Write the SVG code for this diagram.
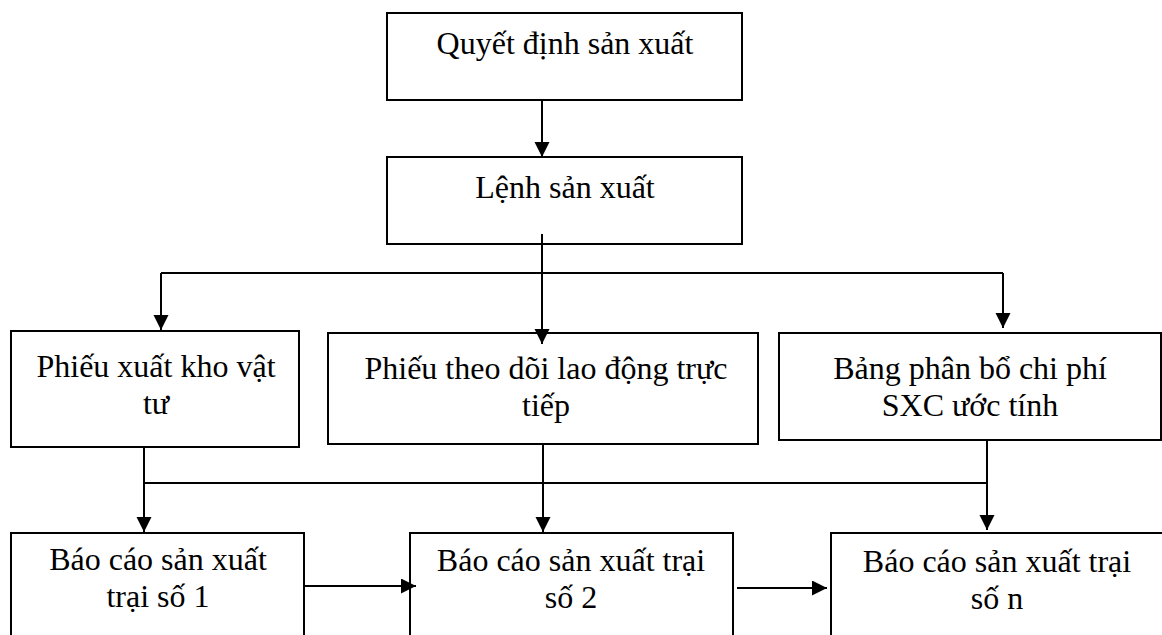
<svg xmlns="http://www.w3.org/2000/svg" width="1162" height="635" viewBox="0 0 1162 635">
  <defs>
    <marker id="arrow" markerUnits="userSpaceOnUse" markerWidth="16" markerHeight="16" viewBox="0 0 16 16" refX="15" refY="7.5" orient="auto">
      <path d="M0,0 L15,7.5 L0,15 z" fill="#000"/>
    </marker>
    <style>
      .box { fill: #fff; stroke: #000; stroke-width: 2; }
      .lbl { font-family: "Liberation Serif", "Times New Roman", serif; font-size: 32px; fill: #000; text-anchor: middle; }
      .wire { fill: none; stroke: #000; stroke-width: 2; }
      .arr { marker-end: url(#arrow); }
    </style>
  </defs>
  <rect width="1162" height="635" fill="#fff"/>

  <!-- top row -->
  <g id="node-quyet-dinh">
    <rect class="box" x="387" y="13" width="355" height="87"/>
    <text class="lbl" x="565" y="54">Quyết định sản xuất</text>
  </g>
  <g id="node-lenh">
    <rect class="box" x="387" y="157" width="355" height="87"/>
    <text class="lbl" x="565" y="198">Lệnh sản xuất</text>
  </g>

  <!-- middle row -->
  <g id="node-phieu-xuat-kho">
    <rect class="box" x="11" y="331" width="288" height="116"/>
    <text class="lbl" x="156" y="377">Phiếu xuất kho vật</text>
    <text class="lbl" x="156" y="414">tư</text>
  </g>
  <g id="node-phieu-lao-dong">
    <rect class="box" x="328" y="333" width="430" height="111"/>
    <text class="lbl" x="546" y="379">Phiếu theo dõi lao động trực</text>
    <text class="lbl" x="546" y="416">tiếp</text>
  </g>
  <g id="node-bang-phan-bo">
    <rect class="box" x="779" y="333" width="382" height="107"/>
    <text class="lbl" x="970" y="379">Bảng phân bổ chi phí</text>
    <text class="lbl" x="970" y="416">SXC ước tính</text>
  </g>

  <!-- bottom row -->
  <g id="node-bao-cao-1">
    <rect class="box" x="11" y="533" width="293" height="110"/>
    <text class="lbl" x="158" y="570">Báo cáo sản xuất</text>
    <text class="lbl" x="158" y="607">trại số 1</text>
  </g>
  <g id="node-bao-cao-2">
    <rect class="box" x="410" y="533" width="323" height="110"/>
    <text class="lbl" x="571" y="571">Báo cáo sản xuất trại</text>
    <text class="lbl" x="571" y="608">số 2</text>
  </g>
  <g id="node-bao-cao-n">
    <rect class="box" x="831" y="533" width="340" height="110"/>
    <text class="lbl" x="997" y="572">Báo cáo sản xuất trại</text>
    <text class="lbl" x="997" y="609">số n</text>
  </g>

  <!-- connectors -->
  <g id="connectors">
    <line class="wire arr" x1="542" y1="100" x2="542" y2="157"/>
    <line class="wire arr" x1="542" y1="234" x2="542" y2="344"/>
    <line class="wire" x1="161" y1="273" x2="1003" y2="273"/>
    <line class="wire arr" x1="161" y1="273" x2="161" y2="330"/>
    <line class="wire arr" x1="1003" y1="273" x2="1003" y2="328"/>

    <line class="wire" x1="144" y1="483" x2="987" y2="483"/>
    <line class="wire arr" x1="144" y1="447" x2="144" y2="532"/>
    <line class="wire arr" x1="543" y1="444" x2="543" y2="532"/>
    <line class="wire arr" x1="987" y1="440" x2="987" y2="530"/>

    <line class="wire arr" x1="304" y1="586" x2="416" y2="586"/>
    <line class="wire arr" x1="737" y1="588" x2="827" y2="588"/>
  </g>
</svg>
